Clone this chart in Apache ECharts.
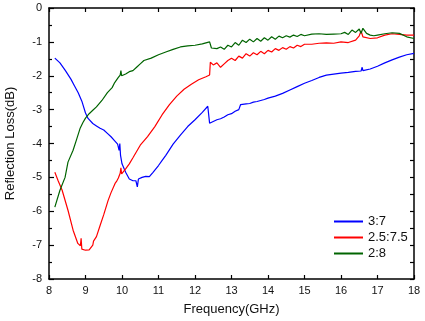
<!DOCTYPE html>
<html>
<head>
<meta charset="utf-8">
<script src="https://cdn.jsdelivr.net/npm/echarts@6/dist/echarts.min.js"></script>
<style>
  html, body { margin: 0; padding: 0; background: #fff; }
  #chart { width: 425px; height: 321px; }
</style>
</head>
<body>
<div id="chart"></div>
<script>
  // series names
  var seriesNames = ['3:7', '2.5:7.5', '2:8'];

  // 3:7
  var freq37 = [8.16, 8.3, 8.45, 8.6, 8.7, 8.8, 8.9, 9.0, 9.07, 9.2, 9.3, 9.4, 9.5, 9.6, 9.7, 9.8, 9.88, 9.92, 9.94, 9.96,
    10.0, 10.1, 10.2, 10.3, 10.38, 10.42, 10.45, 10.55, 10.65, 10.75, 10.85, 10.9, 11.0, 11.1, 11.2, 11.4, 11.6, 11.8,
    12.0, 12.2, 12.35, 12.38, 12.4, 12.5, 12.6, 12.7, 12.8, 12.9, 13.0, 13.1, 13.2, 13.25, 13.3, 13.4, 13.5, 13.6, 13.7,
    13.8, 13.9, 14.0, 14.2, 14.4, 14.6, 14.8, 15.0, 15.2, 15.4, 15.6, 15.8, 16.0, 16.2, 16.4, 16.55, 16.58, 16.6, 16.8,
    17.0, 17.2, 17.4, 17.6, 17.8, 18.0];
  var rl37 = [-1.48, -1.62, -1.85, -2.1, -2.3, -2.5, -2.75, -3.1, -3.26, -3.41, -3.48, -3.55, -3.6, -3.7, -3.8, -3.92, -4.02, -4.2, -4.0, -4.35,
    -4.6, -4.85, -5.05, -5.1, -5.1, -5.28, -5.05, -5.0, -4.97, -4.98, -4.85, -4.8, -4.65, -4.5, -4.35, -4.02, -3.75, -3.5,
    -3.3, -3.08, -2.9, -2.87, -3.4, -3.35, -3.3, -3.27, -3.22, -3.15, -3.12, -3.05, -3.0, -2.85, -2.85, -2.83, -2.82, -2.78, -2.76,
    -2.73, -2.7, -2.66, -2.6, -2.52, -2.42, -2.32, -2.22, -2.14, -2.05, -1.98, -1.95, -1.92, -1.9, -1.87, -1.86, -1.75, -1.85, -1.8,
    -1.72, -1.62, -1.53, -1.45, -1.38, -1.34];

  // 2.5:7.5
  var freq2575 = [8.16, 8.25, 8.36, 8.52, 8.66, 8.79, 8.86, 8.88, 8.9, 9.0, 9.1, 9.2, 9.22, 9.25, 9.3, 9.4, 9.5, 9.62, 9.7,
    9.81, 9.85, 9.9, 9.95, 9.97, 9.99, 10.1, 10.2, 10.3, 10.5, 10.7, 10.9, 11.1, 11.3, 11.5, 11.7, 11.9, 12.1, 12.3, 12.4,
    12.42, 12.5, 12.6, 12.7, 12.8, 12.9, 13.0, 13.1, 13.2, 13.3, 13.4, 13.5, 13.6, 13.7, 13.8, 13.9, 14.0, 14.1, 14.2, 14.3,
    14.4, 14.5, 14.6, 14.7, 14.8, 14.9, 15.0, 15.2, 15.4, 15.6, 15.8, 16.0, 16.2, 16.4, 16.5, 16.55, 16.6, 16.8, 17.0, 17.2,
    17.4, 17.6, 17.8, 18.0];
  var rl2575 = [-4.85, -5.1, -5.38, -5.97, -6.56, -6.95, -7.02, -6.8, -7.12, -7.15, -7.14, -7.0, -6.88, -6.93, -6.75, -6.42, -6.1, -5.68, -5.45,
    -5.18, -5.12, -5.02, -4.88, -4.72, -4.9, -4.75, -4.6, -4.42, -4.05, -3.8, -3.5, -3.15, -2.85, -2.6, -2.4, -2.25, -2.12, -2.03, -1.98,
    -1.6, -1.68, -1.62, -1.75, -1.65, -1.55, -1.48, -1.55, -1.42, -1.48, -1.35, -1.42, -1.32, -1.38, -1.28, -1.35, -1.25, -1.3, -1.2, -1.25,
    -1.17, -1.22, -1.14, -1.18, -1.1, -1.14, -1.07, -1.07, -1.04, -1.03, -1.04, -1.0, -1.02, -0.95, -0.82, -0.68, -0.85, -0.9, -0.88, -0.8,
    -0.76, -0.78, -0.8, -0.8];

  // 2:8
  var freq28 = [8.16, 8.3, 8.44, 8.52, 8.66, 8.75, 8.85, 8.93, 9.0, 9.1, 9.2, 9.3, 9.45, 9.6, 9.73, 9.8, 9.9, 9.95,
    9.97, 9.99, 10.1, 10.2, 10.3, 10.4, 10.5, 10.6, 10.8, 11.0, 11.2, 11.4, 11.6, 11.8, 12.0, 12.2, 12.4, 12.45, 12.5, 12.6,
    12.7, 12.8, 12.9, 13.0, 13.1, 13.2, 13.3, 13.4, 13.5, 13.6, 13.7, 13.8, 13.9, 14.0, 14.1, 14.2, 14.3, 14.4, 14.5, 14.6,
    14.7, 14.8, 14.9, 15.0, 15.2, 15.4, 15.6, 15.8, 16.0, 16.1, 16.2, 16.3, 16.4, 16.5, 16.55, 16.6, 16.7, 16.8, 16.9, 17.0,
    17.2, 17.4, 17.6, 17.8, 18.0];
  var rl28 = [-5.88, -5.38, -5.0, -4.55, -4.2, -3.9, -3.56, -3.38, -3.25, -3.12, -3.02, -2.92, -2.73, -2.5, -2.35, -2.2, -2.05, -1.98,
    -1.85, -2.0, -1.95, -1.88, -1.85, -1.75, -1.65, -1.55, -1.48, -1.38, -1.3, -1.22, -1.15, -1.12, -1.1, -1.06, -1.0, -1.18, -1.15, -1.2,
    -1.15, -1.22, -1.1, -1.15, -1.02, -1.1, -0.95, -1.02, -0.92, -1.0, -0.9, -0.98, -0.88, -0.95, -0.85, -0.92, -0.83, -0.88, -0.82, -0.86,
    -0.8, -0.84, -0.78, -0.82, -0.77, -0.76, -0.78, -0.77, -0.76, -0.72, -0.78, -0.65, -0.72, -0.62, -0.75, -0.6, -0.75, -0.8, -0.82, -0.8,
    -0.76, -0.73, -0.75, -0.85, -0.9];

  var colors = ['#0000ff', '#ff0000', '#006400'];

  function zip(xs, ys) {
    var out = [];
    for (var i = 0; i < xs.length; i++) out.push([xs[i], ys[i]]);
    return out;
  }

  var myChart = echarts.init(document.getElementById('chart'));

  var fontFam = '"Liberation Sans", Arial, sans-serif';
  var axisLine = { show: true, onZero: false, lineStyle: { color: '#000', width: 1.5 } };

  var option = {
    animation: false,
    textStyle: { fontFamily: fontFam },
    grid: { left: 49, right: 11, top: 8, bottom: 42, outerBoundsMode: 'none' },
    legend: {
      orient: 'vertical',
      left: 329,
      top: 210,
      itemWidth: 29,
      itemHeight: 2,
      itemGap: 3,
      icon: 'rect',
      textStyle: { fontSize: 13, color: '#111', fontFamily: fontFam },
      data: seriesNames
    },
    xAxis: [{
      type: 'value',
      min: 8,
      max: 18,
      interval: 1,
      position: 'bottom',
      name: 'Frequency(GHz)',
      nameLocation: 'middle',
      nameGap: 24,
      nameTextStyle: { fontSize: 13, color: '#111', fontFamily: fontFam },
      axisLine: axisLine,
      axisTick: { show: true, inside: true, length: 4, lineStyle: { color: '#000', width: 1.2 } },
      axisLabel: { fontSize: 11, color: '#111', margin: 6, fontFamily: fontFam },
      splitLine: { show: false }
    }, {
      type: 'value',
      min: 8,
      max: 18,
      interval: 1,
      position: 'top',
      axisLine: axisLine,
      axisTick: { show: true, inside: true, length: 4, lineStyle: { color: '#000', width: 1.2 } },
      axisLabel: { show: false },
      splitLine: { show: false }
    }],
    yAxis: [{
      type: 'value',
      min: -8,
      max: 0,
      interval: 1,
      position: 'left',
      name: 'Reflection Loss(dB)',
      nameLocation: 'middle',
      nameGap: 32,
      nameTextStyle: { fontSize: 13, color: '#111', fontFamily: fontFam },
      axisLine: axisLine,
      axisTick: { show: true, inside: true, length: 5, lineStyle: { color: '#000', width: 1.2 } },
      minorTick: { show: true, splitNumber: 2, length: 3, lineStyle: { color: '#000', width: 1.2 } },
      axisLabel: { fontSize: 11, color: '#111', margin: 7, fontFamily: fontFam },
      splitLine: { show: false }
    }, {
      type: 'value',
      min: -8,
      max: 0,
      interval: 1,
      position: 'right',
      axisLine: axisLine,
      axisTick: { show: true, inside: true, length: 4, lineStyle: { color: '#000', width: 1.2 } },
      minorTick: { show: true, splitNumber: 2, length: 4, lineStyle: { color: '#000', width: 1.2 } },
      axisLabel: { show: false },
      splitLine: { show: false }
    }],
    series: [
      { name: seriesNames[0], type: 'line', data: zip(freq37, rl37) },
      { name: seriesNames[1], type: 'line', data: zip(freq2575, rl2575) },
      { name: seriesNames[2], type: 'line', data: zip(freq28, rl28) }
    ].map(function (s, i) {
      s.showSymbol = false;
      s.symbol = 'none';
      s.color = colors[i];
      s.lineStyle = { color: colors[i], width: 1.2 };
      return s;
    })
  };

  myChart.setOption(option);
</script>
</body>
</html>
